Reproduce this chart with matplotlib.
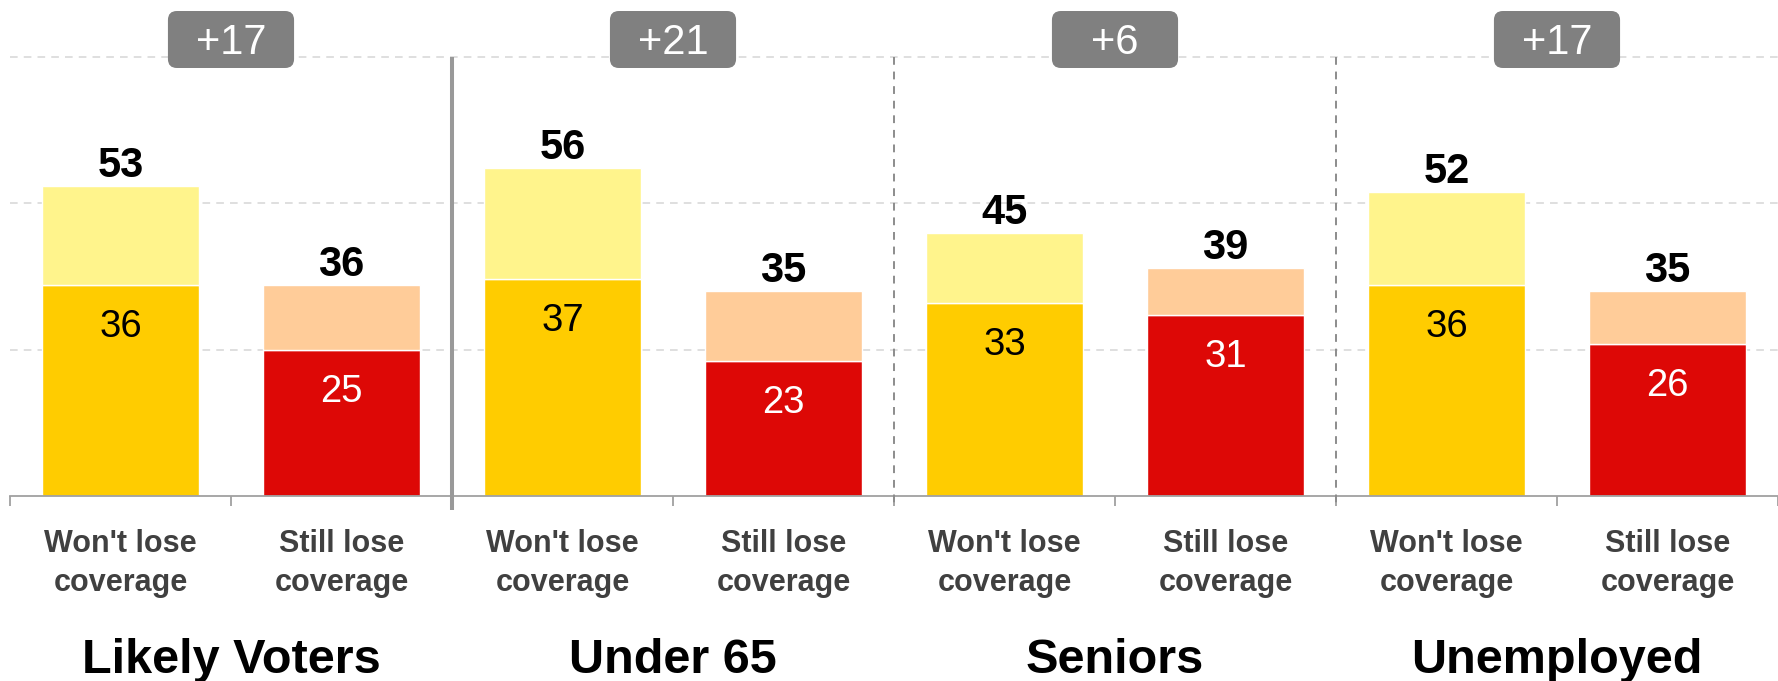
import matplotlib
matplotlib.use("Agg")
import matplotlib.pyplot as plt
from matplotlib.patches import FancyBboxPatch
import numpy as np

plt.rcParams['font.family'] = ['Liberation Sans', 'DejaVu Sans']

# ---- data ----
groups = ["Likely Voters", "Under 65", "Seniors", "Unemployed"]
categories = ["Won't lose\ncoverage", "Still lose\ncoverage"]
wont_strong = [36, 37, 33, 36]
wont_total = [53, 56, 45, 52]
still_strong = [25, 23, 31, 26]
still_total = [36, 35, 39, 35]
badges = ["+17", "+21", "+6", "+17"]

# ---- style ----
C_WONT_DARK = '#FFCC00'
C_WONT_LIGHT = '#FFF48C'
C_STILL_DARK = '#DD0806'
C_STILL_LIGHT = '#FFCC99'
C_BADGE = '#808080'
C_AXIS = '#A0A0A0'

W, H = 1778, 681
fig = plt.figure(figsize=(W / 100, H / 100), dpi=100)
base_px = 496            # baseline pixel from top
px_per_unit = 5.853
left_px = 10
cat_px = 222.5
ax = fig.add_axes([left_px / W, (H - base_px) / H, (W - left_px) / W, base_px / H])
ax.set_ylim(0, base_px / px_per_unit)
ax.set_xlim(-0.5, -0.5 + (W - left_px) / cat_px)

n = len(groups)
x_wont = np.arange(n) * 2
x_still = np.arange(n) * 2 + 1
bw = 0.71

# gridlines
for gv in [25, 50, 75]:
    ax.axhline(gv, color='#D6D6D6', lw=1.1, ls=(0, (5, 4)), zorder=0)

# bars
ax.bar(x_wont, wont_strong, width=bw, color=C_WONT_DARK, edgecolor='white', lw=1, zorder=2)
ax.bar(x_wont, np.array(wont_total) - np.array(wont_strong), bottom=wont_strong, width=bw,
       color=C_WONT_LIGHT, edgecolor='white', lw=1, zorder=2)
ax.bar(x_still, still_strong, width=bw, color=C_STILL_DARK, edgecolor='white', lw=1, zorder=2)
ax.bar(x_still, np.array(still_total) - np.array(still_strong), bottom=still_strong, width=bw,
       color=C_STILL_LIGHT, edgecolor='white', lw=1, zorder=2)

# labels
for xs, strong, total, incol in [(x_wont, wont_strong, wont_total, 'black'),
                                  (x_still, still_strong, still_total, 'white')]:
    for x, s, t in zip(xs, strong, total):
        ax.annotate(str(t), (x, t), xytext=(0, 9), textcoords='offset pixels',
                    ha='center', va='baseline', fontsize=30, fontweight='bold', color='black', zorder=5)
        ax.annotate(str(s), (x, s), xytext=(0, -52), textcoords='offset pixels',
                    ha='center', va='baseline', fontsize=27.5, color=incol, zorder=5)

# separators
ylow = -14 / px_per_unit
for g in range(1, n):
    xb = 2 * g - 0.5
    if g == 1:
        ax.plot([xb, xb], [75, ylow], color='#999999', lw=2.9, clip_on=False, zorder=3,
                solid_capstyle='butt')
    else:
        ax.plot([xb, xb], [75, ylow + 0.3], color='#8C8C8C', lw=1.4, ls=(0, (4, 3.5)),
                clip_on=False, zorder=3)

# badges
bw_units = 127 / cat_px
bh_units = 57 / px_per_unit
bcy = (base_px - 39.5) / px_per_unit
aspect = cat_px / px_per_unit
for g, b in enumerate(badges):
    cx = 2 * g + 0.5
    patch = FancyBboxPatch((cx - bw_units / 2, bcy - bh_units / 2), bw_units, bh_units,
                           boxstyle="round,pad=0,rounding_size=%f" % (9 / cat_px),
                           mutation_aspect=aspect, fc=C_BADGE, ec='none', zorder=6, clip_on=False)
    ax.add_patch(patch)
    ax.annotate(b, (cx, bcy), xytext=(0, -15), textcoords='offset pixels', ha='center', va='baseline',
                fontsize=30, color='white', zorder=7)

# axes / ticks
for s in ['left', 'top', 'right']:
    ax.spines[s].set_visible(False)
ax.spines['bottom'].set_color(C_AXIS)
ax.spines['bottom'].set_linewidth(1.3)
ax.set_yticks([])
ax.set_xticks(np.arange(-0.5, 2 * n, 1.0))
ax.tick_params(axis='x', which='major', length=7.2, width=1.3, color=C_AXIS, labelbottom=False)
ax.set_xticks(np.arange(2 * n), minor=True)
ax.set_xticklabels(categories * n, minor=True)
ax.tick_params(axis='x', which='minor', length=0, pad=24)
for lbl in ax.get_xticklabels(minor=True):
    lbl.set_fontsize(22)
    lbl.set_fontweight('bold')
    lbl.set_color('#404040')
    lbl.set_linespacing(1.36)

# group labels
for g, name in enumerate(groups):
    ax.annotate(name, (2 * g + 0.5, 0), xytext=(0, -177), textcoords='offset pixels',
                ha='center', va='baseline', fontsize=35, fontweight='bold', color='black',
                annotation_clip=False)

fig.savefig('out.png', dpi=100)
